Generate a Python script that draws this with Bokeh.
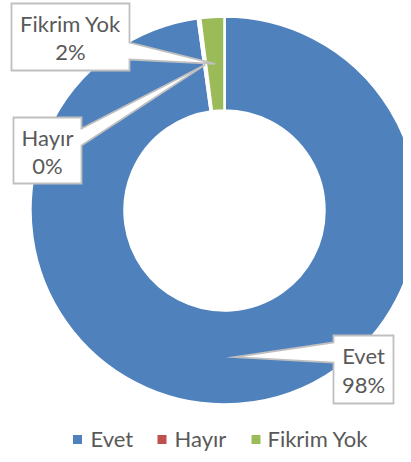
import math
from bokeh.plotting import figure
from bokeh.models import Range1d, ColumnDataSource
from bokeh.core.properties import value
from bokeh.embed import file_html
from bokeh.resources import INLINE

# ---- data ----
categories = ["Evet", "Hayır", "Fikrim Yok"]
shares = [97.8, 0.2, 2.0]
colors = ["#4F81BD", "#C0504D", "#9BBB59"]

# ---- layout (pixel space of the picture) ----
CX, CY = 224, 210
R_OUT, R_IN = 194, 100
FONT = "Lato"
TXT = "#595959"
BORDER = "#BFBFBF"
TDY = -8  # baseline correction for svg text

p = figure(width=403, height=454, x_range=Range1d(0, 403), y_range=Range1d(454, 0),
           output_backend="svg", toolbar_location=None, min_border=0,
           x_axis_location=None, y_axis_location=None)
p.grid.visible = False
p.outline_line_color = None

total = sum(shares)
starts, ends, mids = [], [], []
cum = 0.0
for v in shares:
    a0 = 90 - cum / total * 360
    a1 = 90 - (cum + v) / total * 360
    starts.append(math.radians(a0))
    ends.append(math.radians(a1))
    mids.append(math.radians((a0 + a1) / 2))
    cum += v

src = ColumnDataSource(dict(start=starts, end=ends, color=colors,
                            x=[CX] * 3, y=[CY] * 3))
p.annular_wedge(x="x", y="y", inner_radius=R_IN, outer_radius=R_OUT,
                start_angle="start", end_angle="end",
                direction="clock", fill_color="color", line_color="white",
                line_width=2.5, source=src)

# ---- callout labels ----
boxes = {
    "Evet": ((333, 335, 393, 403), "left", (342, 362), (363, 392)),
    "Hayır": ((13, 117, 81, 183), "right", (128, 145), (145, 173)),
    "Fikrim Yok": ((11, 3, 129, 70), "right", (42, 59), (31, 59)),
}
RM = (R_IN + R_OUT) / 2
order = [2, 1, 0]
for i in order:
    cat = categories[i]
    (x0, y0, x1, y1), side, (ya, yb), (b1, b2) = boxes[cat]
    ang = mids[i]
    tx = CX + RM * math.cos(ang)
    ty = CY - RM * math.sin(ang)
    if side == "right":
        xs = [x0, x1, x1, tx, x1, x1, x0]
        ys = [y0, y0, ya, ty, yb, y1, y1]
    else:
        xs = [x0, x1, x1, x0, x0, tx, x0]
        ys = [y0, y0, y1, y1, yb, ty, ya]
    p.patch(xs, ys, fill_color="white", line_color=BORDER, line_width=1.8,
            line_join="miter")
    xc = (x0 + x1) / 2
    pct = f"{round(shares[i] / total * 100)}%"
    p.text(x=[xc, xc], y=[b1 + TDY, b2 + TDY], text=[cat, pct], text_align="center",
           text_baseline="alphabetic", text_font=value(FONT),
           text_font_size="22px", text_color=TXT)

# ---- legend ----
leg_sq_x = [77, 161.5, 255.5]
leg_tx_x = [90, 174, 267]
LEG_BASE = 446
p.scatter(x=leg_sq_x, y=[LEG_BASE - 7] * 3, marker="square", size=9,
          fill_color=colors, line_color=None)
p.text(x=leg_tx_x, y=[LEG_BASE + TDY] * 3, text=categories, text_align="left",
       text_baseline="alphabetic", text_font=value(FONT),
       text_font_size="22px", text_color=TXT)

open("out.html", "w").write(file_html(p, INLINE))
